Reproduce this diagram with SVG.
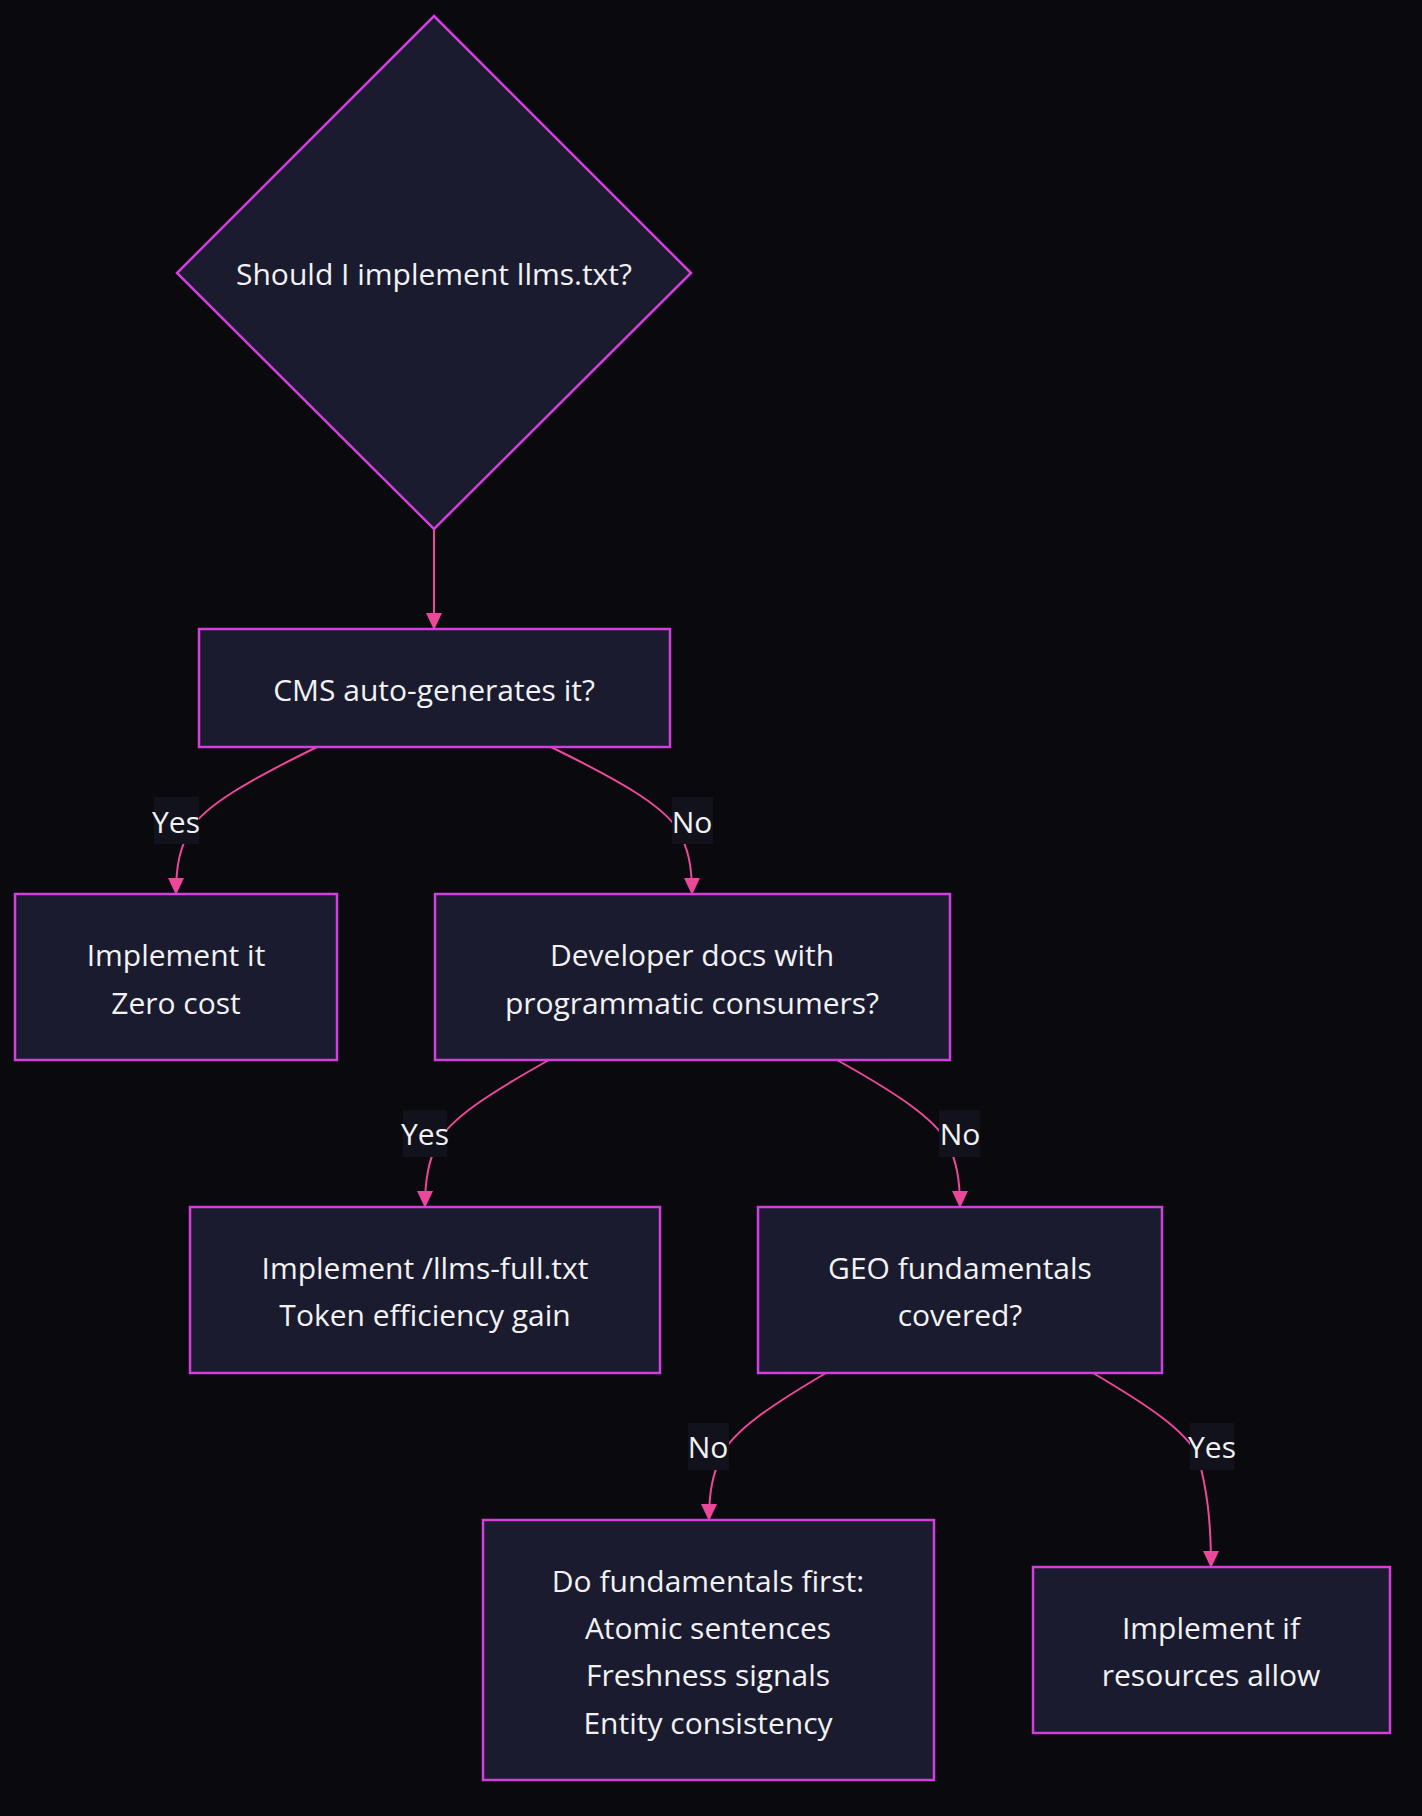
<svg xmlns="http://www.w3.org/2000/svg" width="1422" height="1816" viewBox="0 0 1422 1816">
<style>
.node rect,.node polygon{fill:#1b1b2f;stroke:#d23fdc;stroke-width:2.5}
.node text,.lbl text{fill:#f2f2f2;font-family:"Open Sans","Noto Sans","Liberation Sans",sans-serif;font-size:30px;text-anchor:middle;dominant-baseline:central}
.edge{fill:none;stroke:#ec4899;stroke-width:2}
.lbl rect{fill:#12121c}
</style>
<defs>
<marker id="arr" markerUnits="userSpaceOnUse" markerWidth="17" markerHeight="16" viewBox="0 0 17 16" refX="16" refY="8" orient="auto">
<path d="M0,0 L17,8 L0,16 z" fill="#ec4899"/>
</marker>
</defs>
<rect x="0" y="0" width="1422" height="1816" fill="#09090e"/>
<g id="connectors">
<path class="edge" marker-end="url(#arr)" d="M434,529 L434,629"/>
<path class="edge" marker-end="url(#arr)" d="M317,747 C250,780 205,805 190,830 C180,848 176,865 176,894"/>
<path class="edge" marker-end="url(#arr)" d="M551,747 C618,780 663,805 678,830 C688,848 692,865 692,894"/>
<path class="edge" marker-end="url(#arr)" d="M549,1060 C490,1093 451,1118 437,1143 C429,1161 425,1178 425,1207"/>
<path class="edge" marker-end="url(#arr)" d="M837,1060 C896,1093 934,1118 948,1143 C956,1161 960,1178 960,1207"/>
<path class="edge" marker-end="url(#arr)" d="M826,1373 C770,1406 733,1431 721,1456 C713,1474 709,1491 709,1520"/>
<path class="edge" marker-end="url(#arr)" d="M1093,1373 C1149,1406 1186,1431 1198,1456 C1207,1490 1211,1520 1211,1567"/>
<g class="lbl"><rect x="154" y="797" width="45" height="47"/><text x="176" y="821">Yes</text></g>
<g class="lbl"><rect x="672" y="797" width="41" height="47"/><text x="692" y="821">No</text></g>
<g class="lbl"><rect x="403" y="1110" width="44" height="47"/><text x="425" y="1133">Yes</text></g>
<g class="lbl"><rect x="939" y="1110" width="41" height="47"/><text x="960" y="1133">No</text></g>
<g class="lbl"><rect x="688" y="1423" width="41" height="47"/><text x="708" y="1446">No</text></g>
<g class="lbl"><rect x="1190" y="1423" width="44" height="47"/><text x="1212" y="1446">Yes</text></g>
</g>
<g id="start" class="node"><polygon points="434,16 691,273 434,529 177,273"/><text x="434" y="273">Should I implement llms.txt?</text></g>
<g id="cms" class="node"><rect x="199" y="629" width="471" height="118"/><text x="434" y="689">CMS auto-generates it?</text></g>
<g id="impl" class="node"><rect x="15" y="894" width="322" height="166"/><text x="176" y="954">Implement it</text><text x="176" y="1002">Zero cost</text></g>
<g id="dev" class="node"><rect x="435" y="894" width="515" height="166"/><text x="692" y="954">Developer docs with</text><text x="692" y="1002">programmatic consumers?</text></g>
<g id="full" class="node"><rect x="190" y="1207" width="470" height="166"/><text x="425" y="1267">Implement /llms-full.txt</text><text x="425" y="1314">Token efficiency gain</text></g>
<g id="geo" class="node"><rect x="758" y="1207" width="404" height="166"/><text x="960" y="1267">GEO fundamentals</text><text x="960" y="1314">covered?</text></g>
<g id="fund" class="node"><rect x="483" y="1520" width="451" height="260"/><text x="708" y="1580">Do fundamentals first:</text><text x="708" y="1627">Atomic sentences</text><text x="708" y="1674">Freshness signals</text><text x="708" y="1722">Entity consistency</text></g>
<g id="ifres" class="node"><rect x="1033" y="1567" width="357" height="166"/><text x="1211" y="1627">Implement if</text><text x="1211" y="1674">resources allow</text></g>
</svg>
